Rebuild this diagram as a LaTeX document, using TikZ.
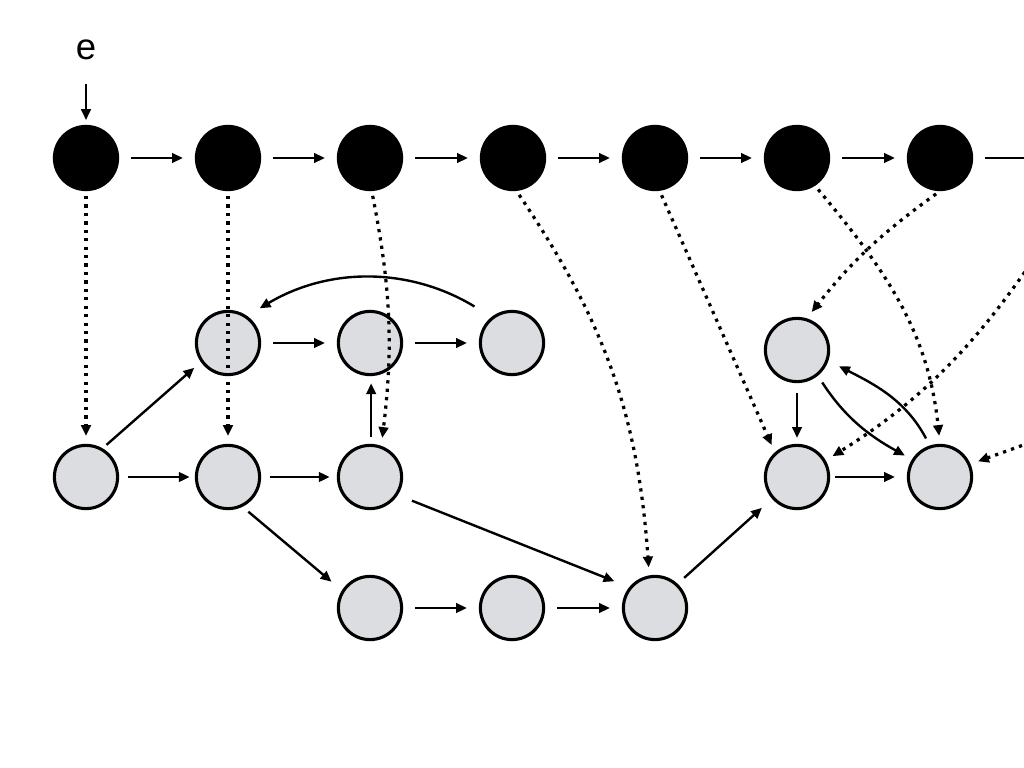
\documentclass[tikz,border=0pt]{standalone}
\usepackage{fontspec}
\setmainfont{Liberation Sans}
\usepackage{xcolor}
\usepackage{tikz}
\usetikzlibrary{arrows.meta}

\definecolor{nodegray}{RGB}{220,221,224}

\begin{document}
\begin{tikzpicture}[
      x=0.025cm, y=-0.025cm,
      every node/.style = {shape=circle, draw, line width=2.2pt,
        minimum size=1.58cm, inner sep=0pt},
      hid/.style = {fill=black},
      obs/.style = {fill=nodegray},
      arr/.style = {-{Triangle[length=0.27cm,width=0.24cm]}, line width=1.7pt,
        shorten <=0.3cm, shorten >=0.3cm},
      dep/.style = {-{Triangle[length=0.27cm,width=0.24cm]}, line width=2.3pt,
        dash pattern=on 2.3pt off 3.7pt, shorten <=0.12cm, shorten >=0.2cm}
    ]
      \clip (0,0) rectangle (1024,768);

      \foreach \i/\x in {1/86, 2/228, 3/370, 4/513, 5/655, 6/797, 7/940, 8/1082}
        \node[hid] (h\i) at (\x,158) {};
      \node[draw=none, shape=rectangle, minimum size=0pt,
        font=\fontsize{26}{30}\selectfont] (e) at (86,50) {e};

      \node[obs] (n22) at (228,343) {};
      \node[obs] (n32) at (370,343) {};
      \node[obs] (n42) at (512,343) {};
      \node[obs] (n62) at (797,350) {};
      \node[obs] (n13) at (86,477) {};
      \node[obs] (n23) at (228,477) {};
      \node[obs] (n33) at (370,477) {};
      \node[obs] (n63) at (797,477) {};
      \node[obs] (n73) at (940,477) {};
      \node[obs] (n34) at (370,608) {};
      \node[obs] (n44) at (512,608) {};
      \node[obs] (n54) at (655,608) {};
      \coordinate (r1) at (1090,421);

      \draw[arr, shorten <=0.55cm, shorten >=0.12cm] (e) -- (h1);
      \foreach \i [count=\j from 2] in {1,...,7}
        \draw[arr] (h\i) -- (h\j);

      \draw[dep] (h1) -- (n13);
      \draw[dep] (h2) -- (n23);
      \draw[dep] (h3.-87) to[bend left=9] (n33.70);
      \draw[dep] (h4.-84) to[bend left=15] (n54.100);
      \draw[dep] (h5.-82) -- (n63.132);
      \draw[dep] (h6.-57) to[out=-50, in=96] (n73.90);
      \draw[dep] (h7.-90) to[bend right=8] (n62.73);
      \draw[dep] (h8.-95) to[out=-123, in=32] (n63.30);
      \draw[dep] (r1) -- (n73.23);

      \draw[arr, shorten <=0.22cm, shorten >=0.13cm] (n13) -- (n23);
      \draw[arr, shorten <=0.13cm, shorten >=0.22cm] (n13.60) -- (n22.215);
      \draw[arr, shorten <=0.22cm, shorten >=0.18cm] (n23) -- (n33);
      \draw[arr, shorten <=0.19cm, shorten >=0.34cm] (n23.-64) -- (n34.148);
      \draw[arr] (n22) -- (n32);
      \draw[arr] (n32) -- (n42);
      \draw[arr, shorten <=0.5cm, shorten >=0.37cm] (n42.128) to[bend right=31] (n22.55);
      \draw[arr, shorten <=0.18cm, shorten >=0.18cm] (n33.88) -- (n32.-88);
      \draw[arr, shorten <=0.38cm, shorten >=0.4cm] (n33.-33) -- (n54.141);
      \draw[arr] (n34) -- (n44);
      \draw[arr] (n44) -- (n54);
      \draw[arr, shorten <=0.22cm, shorten >=0.34cm] (n54.47) -- (n63.221);
      \draw[arr, shorten <=0.25cm, shorten >=0.15cm] (n62) -- (n63);
      \draw[arr, shorten <=0.13cm, shorten >=0.3cm] (n63) -- (n73);
      \draw[arr, shorten <=0.2cm, shorten >=0.2cm] (n62.-51) to[out=-57, in=151] (n73.148);
      \draw[arr, shorten <=0.2cm, shorten >=0.3cm] (n73.108) to[out=118, in=-27] (n62.-19);
    \end{tikzpicture}
\end{document}
